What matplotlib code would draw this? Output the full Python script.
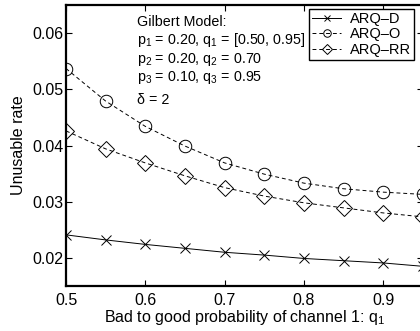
import numpy as np
import matplotlib
matplotlib.use("Agg")
import matplotlib.pyplot as plt

plt.rcParams['font.family'] = ['Liberation Sans', 'DejaVu Sans']
plt.rcParams['mathtext.default'] = 'regular'

# bad-to-good probability of channel 1
q1 = [0.50, 0.55, 0.60, 0.65, 0.70, 0.75, 0.80, 0.85, 0.90, 0.95]

# unusable rate per scheme
arq_d = [0.0241, 0.0232, 0.0224, 0.0217, 0.0210, 0.0205, 0.0199, 0.0195, 0.0191, 0.0185]
arq_o = [0.0537, 0.0479, 0.0434, 0.0399, 0.0369, 0.0349, 0.0333, 0.0323, 0.0317, 0.0313]
arq_rr = [0.0426, 0.0394, 0.0369, 0.0346, 0.0325, 0.0310, 0.0298, 0.0289, 0.0280, 0.0273]

labels = ['ARQ–D', 'ARQ–O', 'ARQ–RR']
xticks = [0.5, 0.6, 0.7, 0.8, 0.9]
yticks = [0.02, 0.03, 0.04, 0.05, 0.06]

fig = plt.figure(figsize=(4.2, 3.31), dpi=100)
W, H = 420.0, 331.0
# axes deliberately runs a few pixels past the right edge, like the original crop
ax = fig.add_axes([66 / W, 1 - 286 / H, (423 - 66) / W, (286 - 5) / H])

ax.plot(q1, arq_d, '-', color='black', lw=0.7, marker='x', ms=7, mew=0.7, label=labels[0])
ax.plot(q1, arq_o, '--', color='black', lw=0.7, dashes=(4, 3), marker='o', ms=9,
        mfc='none', mew=0.7, label=labels[1])
ax.plot(q1, arq_rr, '--', color='black', lw=0.7, dashes=(4, 3), marker='D', ms=8,
        mfc='none', mew=0.7, label=labels[2])

ax.set_xlim(0.5, 0.95)
ax.set_ylim(0.015, 0.065)
ax.set_xticks(xticks)
ax.set_yticks(yticks)
ax.set_xticklabels(['%g' % t for t in xticks])
ax.set_yticklabels(['%.2f' % t for t in yticks])
ax.tick_params(direction='in', top=True, right=True, length=4, width=0.8, labelsize=11.5)
ax.tick_params(axis='x', pad=5)
ax.tick_params(axis='y', pad=2)
for s in ax.spines.values():
    s.set_linewidth(1.6)

ax.set_xlabel('Bad to good probability of channel 1: q$_1$', fontsize=11.5, labelpad=0)
ax.set_ylabel('Unusable rate', fontsize=11.5, labelpad=4)

lines = ['Gilbert Model:',
         'p$_1$ = 0.20, q$_1$ = [0.50, 0.95]',
         'p$_2$ = 0.20, q$_2$ = 0.70',
         'p$_3$ = 0.10, q$_3$ = 0.95',
         'δ = 2']
ys = [22, 40, 59, 78, 100]
for txt, yy in zip(lines, ys):
    fig.text(137 / W, 1 - yy / H, txt, fontsize=10.3, ha='left', va='center')

leg = ax.legend(loc='upper right', bbox_to_anchor=(414 / W, 1 - 9 / H),
                bbox_transform=fig.transFigure, fontsize=10.5, frameon=True,
                fancybox=False, edgecolor='black', framealpha=1, handlelength=2.0,
                handletextpad=0.6, borderpad=0.2, labelspacing=0.1, borderaxespad=0,
                markerscale=0.6)
leg.get_frame().set_linewidth(1.0)

fig.savefig('out.png', dpi=100)
